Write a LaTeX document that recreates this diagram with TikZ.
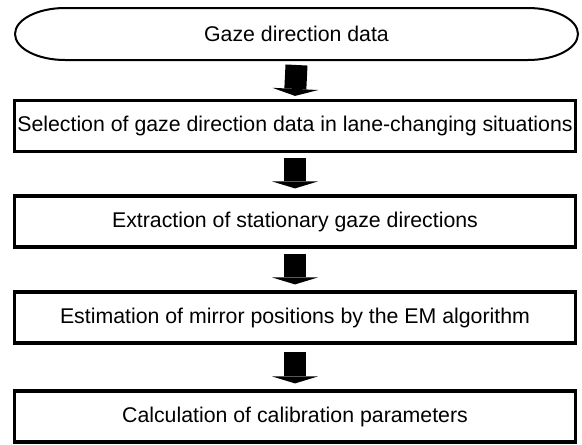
\documentclass[tikz,border=0pt]{standalone}
\usepackage{fontspec}
\setmainfont{Liberation Sans}
\usepackage{tikz}
\usetikzlibrary{arrows.meta}

\begin{document}
\begin{tikzpicture}[x=1pt,y=-1pt,
  stepbox/.style={draw, line width=3.2pt, minimum width=561pt, minimum height=51pt,
    inner sep=0pt, font=\fontsize{21.3}{25}\selectfont},
  flow/.style={line width=22pt, -{Triangle[length=7pt,width=46pt,line width=0pt]}}]
\useasboundingbox (0,0) rectangle (582,445);
%% source data
\node[minimum width=563pt, minimum height=52pt, inner sep=0pt, outer sep=0pt,
  font=\fontsize{21.3}{25}\selectfont] (gaze) at (296.5,34) {Gaze direction data};
\draw[line width=2pt] ([xshift=50pt]gaze.north west) -- ([xshift=-50pt]gaze.north east)
  arc[start angle=90, end angle=-90, x radius=50pt, y radius=26pt]
  -- ([xshift=50pt]gaze.south west)
  arc[start angle=270, end angle=90, x radius=50pt, y radius=26pt] -- cycle;
%% processing steps
\node[stepbox] (select) at (295,126) {Selection of gaze direction data in lane-changing situations};
\node[stepbox] (extract) at (295,221.5) {Extraction of stationary gaze directions};
\node[stepbox] (estim) at (295,317.5) {Estimation of mirror positions by the EM algorithm};
\node[stepbox] (calib) at (295,416.5) {Calculation of calibration parameters};
%% block arrows
\draw[flow] ([yshift=-5pt]gaze.south) -- ([yshift=3pt]select.north);
\draw[flow] ([yshift=-5pt]select.south) -- ([yshift=6pt]extract.north);
\draw[flow] ([yshift=-5pt]extract.south) -- ([yshift=6pt]estim.north);
\draw[flow] ([yshift=-7pt]estim.south) -- ([yshift=6pt]calib.north);
\end{tikzpicture}
\end{document}
